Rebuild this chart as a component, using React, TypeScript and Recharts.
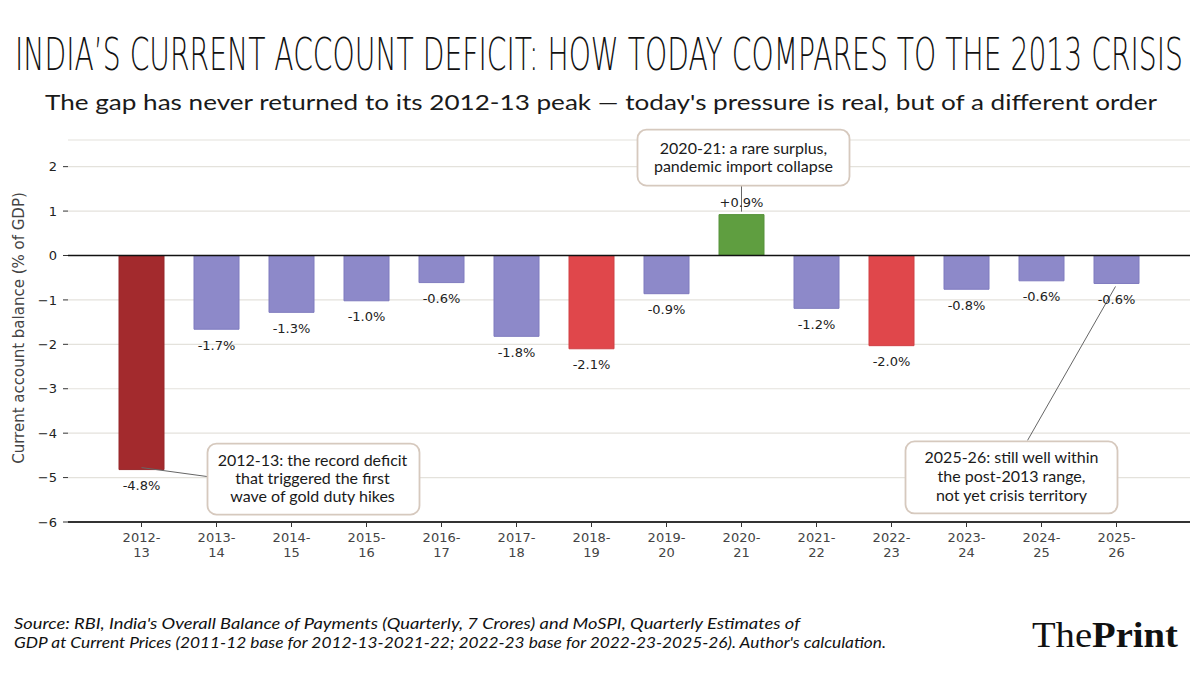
import React from 'react';
import { BarChart, Bar, XAxis, YAxis, CartesianGrid, Cell, LabelList, ReferenceLine, ReferenceDot } from 'recharts';

const years = ['2012-13', '2013-14', '2014-15', '2015-16', '2016-17', '2017-18', '2018-19', '2019-20', '2020-21', '2021-22', '2022-23', '2023-24', '2024-25', '2025-26'];
const cadPct = [-4.82, -1.66, -1.28, -1.02, -0.61, -1.82, -2.1, -0.86, 0.92, -1.19, -2.03, -0.76, -0.57, -0.63];
const yTicks = [-6, -5, -4, -3, -2, -1, 0, 1, 2];

const data = years.map((year, i) => ({ year, cad: cadPct[i] }));

// colour by episode
const barFill: Record<string, string> = { '2012-13': '#a32a2d', '2018-19': '#e0474b', '2022-23': '#e0474b', '2020-21': '#5f9e40' };
const barEdge: Record<string, string> = { '2012-13': '#96262a', '2018-19': '#d04045', '2022-23': '#d04045', '2020-21': '#57923a' };
const defaultFill = '#8d89c9';
const defaultEdge = '#7f7bbf';

const notes = [
  { year: '2012-13', lines: ['2012-13: the record deficit', 'that triggered the first', 'wave of gold duty hikes'], line: [0, -2, 66, 7], box: [66, -26, 212, 71], tx: 171, ty: [-4, 14, 32] },
  { year: '2020-21', lines: ['2020-21: a rare surplus,', 'pandemic import collapse'], line: [0, -3, 0, -30], box: [-104, -85, 212, 56], tx: 2, ty: [-61, -43] },
  { year: '2025-26', lines: ['2025-26: still well within', 'the post-2013 range,', 'not yet crisis territory'], line: [-1, 3, -89, 157], box: [-211, 158, 212, 72], tx: -105, ty: [180, 199, 218] },
];

const tickFont = 'DejaVu Sans, Verdana, sans-serif';
const noteFont = 'Lato, "Noto Sans", sans-serif';

const XTick = (props: any) => {
  const { x, y, payload } = props;
  const [a, b] = String(payload.value).split('-');
  return (
    <g transform={`translate(${x},${y})`}>
      <text textAnchor="middle" fontSize={13} fill="#444" fontFamily={tickFont}>
        <tspan x={0} dy={12.5}>{a}-</tspan>
        <tspan x={0} dy={15}>{b}</tspan>
      </text>
    </g>
  );
};

const BarLabel = (props: any) => {
  const { x, y, width, height, value } = props;
  const top = Math.min(y, y + height);
  const bottom = Math.max(y, y + height);
  const cx = x + width / 2;
  const pos = value >= 0;
  return (
    <text x={cx} y={pos ? top - 12 : bottom + 16} textAnchor="middle" dominantBaseline="central" fontSize={13} fill="#222" fontFamily={tickFont}>
      {pos ? `+${value.toFixed(1)}%` : `${value.toFixed(1)}%`}
    </text>
  );
};

const makeNote = (n: typeof notes[number]) => (props: any) => {
  const { cx, cy } = props;
  const [x1, y1, x2, y2] = n.line;
  const [bx, by, bw, bh] = n.box;
  return (
    <g>
      <line x1={cx + x1} y1={cy + y1} x2={cx + x2} y2={cy + y2} stroke="#666" strokeWidth={1} />
      <rect x={cx + bx} y={cy + by} width={bw} height={bh} rx={9} fill="#fff" stroke="#d6c9be" strokeWidth={1.8} />
      <text textAnchor="middle" fontSize={16} fill="#1a1a1a" fontFamily={noteFont}>
        {n.lines.map((l, i) => (
          <tspan key={i} x={cx + n.tx} y={cy + n.ty[i]}>{l}</tspan>
        ))}
      </text>
    </g>
  );
};

export default function App() {
  return (
    <div style={{ position: 'absolute', left: 0, top: 0, width: 1200, height: 675, background: '#fff', overflow: 'hidden' }}>
      <BarChart width={1200} height={675} data={data} margin={{ top: 140, right: 10, bottom: 113, left: 8 }}>
        <CartesianGrid vertical={false} stroke="#e4e2dc" strokeWidth={1.2} />
        <XAxis
          dataKey="year"
          padding={{ left: 36, right: 36 }}
          height={40}
          interval={0}
          axisLine={{ stroke: '#333', strokeWidth: 2 }}
          tickLine={{ stroke: '#333' }}
          tickSize={5}
          tick={<XTick />}
        />
        <YAxis
          width={60}
          domain={[-6, 2.6]}
          ticks={yTicks}
          axisLine={false}
          tickLine={{ stroke: '#333' }}
          tickSize={5}
          tickMargin={6}
          tick={{ fontSize: 13, fill: '#222', fontFamily: tickFont }}
          tickFormatter={(v: number) => (v < 0 ? `\u2212${Math.abs(v)}` : `${v}`)}
        />
        <Bar dataKey="cad" barSize={45} isAnimationActive={false}>
          {data.map((d) => (
            <Cell key={d.year} fill={barFill[d.year] ?? defaultFill} stroke={barEdge[d.year] ?? defaultEdge} strokeWidth={1} />
          ))}
          <LabelList dataKey="cad" content={<BarLabel />} />
        </Bar>
        <ReferenceLine y={0} stroke="#111" strokeWidth={1.5} />
        {notes.map((n) => (
          <ReferenceDot
            key={n.year}
            x={n.year}
            y={cadPct[years.indexOf(n.year)]}
            r={0}
            ifOverflow="visible"
            shape={makeNote(n)}
          />
        ))}
      </BarChart>
      <svg width={1200} height={675} style={{ position: 'absolute', left: 0, top: 0, pointerEvents: 'none' }}>
        <g transform="translate(599,70) scale(1,1.7)">
          <text x={0} y={0} textAnchor="middle" fontSize={26} fontWeight={200} fontFamily="DejaVu Sans, sans-serif" fill="#111" textLength={1168} lengthAdjust="spacingAndGlyphs">
            INDIA’S CURRENT ACCOUNT DEFICIT: HOW TODAY COMPARES TO THE 2013 CRISIS
          </text>
        </g>
        <text x={601} y={110} textAnchor="middle" fontSize={22} fontFamily={noteFont} fill="#1a1a1a" textLength={1112} lengthAdjust="spacingAndGlyphs">
          The gap has never returned to its 2012-13 peak — today's pressure is real, but of a different order
        </text>
        <text transform="translate(24,328) rotate(-90)" textAnchor="middle" fontSize={15} fontFamily={tickFont} fill="#444">
          Current account balance (% of GDP)
        </text>
        <text x={14} y={629} fontSize={15} fontStyle="italic" fontFamily={noteFont} fill="#111" textLength={786} lengthAdjust="spacingAndGlyphs">
          Source: RBI, India's Overall Balance of Payments (Quarterly, 7 Crores) and MoSPI, Quarterly Estimates of
        </text>
        <text x={14} y={648} fontSize={15} fontStyle="italic" fontFamily={noteFont} fill="#111" textLength={872} lengthAdjust="spacingAndGlyphs">
          GDP at Current Prices (2011-12 base for 2012-13-2021-22; 2022-23 base for 2022-23-2025-26). Author's calculation.
        </text>
        <text x={1032} y={647} fontSize={36} fontFamily="Liberation Serif, serif" fill="#111" textLength={146} lengthAdjust="spacingAndGlyphs">
          The<tspan fontWeight="bold">Print</tspan>
        </text>
      </svg>
    </div>
  );
}
